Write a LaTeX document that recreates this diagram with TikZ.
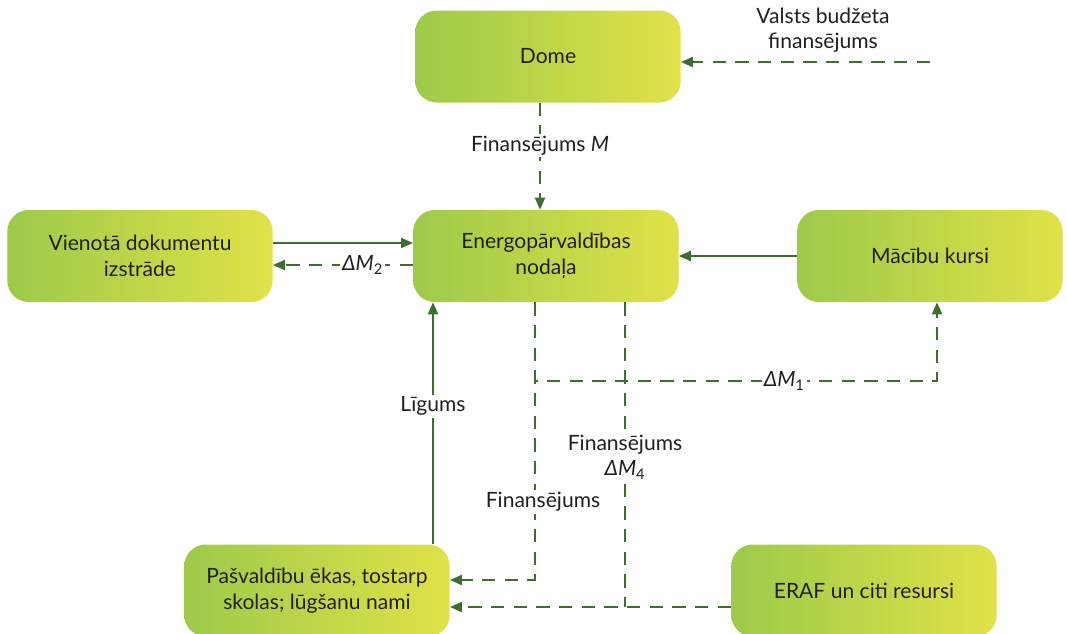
\documentclass[tikz,border=0pt]{standalone}
\usepackage{fontspec}
\setmainfont{Lato}
\usetikzlibrary{arrows.meta}
\definecolor{boxl}{RGB}{157,202,74}
\definecolor{boxr}{RGB}{224,226,71}
\definecolor{flow}{RGB}{62,110,45}
\definecolor{ink}{RGB}{35,31,32}
\tikzset{
  box/.style={rounded corners=16pt, left color=boxl, right color=boxr,
    minimum width=199pt, minimum height=69pt, align=center, text=ink,
    font=\fontsize{15.8}{19.5}\selectfont},
  lbl/.style={fill=white, text=ink, align=center, inner sep=1.5pt,
    font=\fontsize{15.8}{19}\selectfont},
  sline/.style={flow, line width=1.5pt, -{Triangle[length=9pt,width=7.5pt]}},
  dline/.style={sline, dash pattern=on 10pt off 7pt},
}
\newcommand{\dM}[1]{\textit{ΔM}\textsubscript{#1}}

\begin{document}
\begin{tikzpicture}[x=0.75pt,y=-0.75pt]
  \useasboundingbox (0,0) rectangle (1067,633);

  % boxes
  \node[box] (dome) at (548,56.5) {Dome};
  \node[box] (energo) at (546,256) {Energopārvaldības\\nodaļa};
  \node[box] (vieno) at (140,256) {Vienotā dokumentu\\izstrāde};
  \node[box] (macibu) at (930,256) {Mācību kursi};
  \node[box] (pasv) at (317,590.5) {Pašvaldību ēkas, tostarp\\skolas; lūgšanu nami};
  \node[box] (eraf) at (864,590.5) {ERAF un citi resursi};

  % state budget
  \coordinate (valsts) at (930,62);
  \node[lbl] (valstslbl) at (823,30) {Valsts budžeta\\finansējums};
  \draw[dline] (valsts) -- (dome.east |- valsts);

  \draw[dline] (dome.south -| 540,0) -- (energo.north -| 540,0)
      node[lbl,pos=0.4] (finM) {Finansējums \textit{M}};

  \draw[sline] (vieno.east |- 0,243) -- (energo.west |- 0,243);
  \draw[dline] (energo.west |- 0,265) -- (vieno.east |- 0,265)
      node[lbl,pos=0.36] (dm2) {\dM{2}};
  \draw[sline] (macibu.west) -- (energo.east);

  % flows out of the department
  \coordinate (a1) at (535,381);
  \coordinate (a2) at (937,381);
  \coordinate (b1) at (535,580);
  \coordinate (c1) at (625,607);
  \draw[dline] (energo.south -| a1) -- (a1) -- (a2)
      node[lbl,pos=0.62] (dm1) {\dM{1}} -- (macibu.south -| a2);
  \draw[dline] (energo.south -| b1) -- (b1) -- (pasv.east |- b1);
  \draw[dline,-] (energo.south -| c1) -- (c1);
  \draw[dline] (eraf.west |- c1) -- (pasv.east |- c1);
  \node[lbl] (fin) at (543,502) {Finansējums};
  \node[lbl] (fin4) at (625,457) {Finansējums\\\dM{4}};

  \draw[sline] (pasv.north -| 433,0) -- (energo.south -| 433,0)
      node[lbl,pos=0.57] (ligums) {Līgums};
\end{tikzpicture}
\end{document}
